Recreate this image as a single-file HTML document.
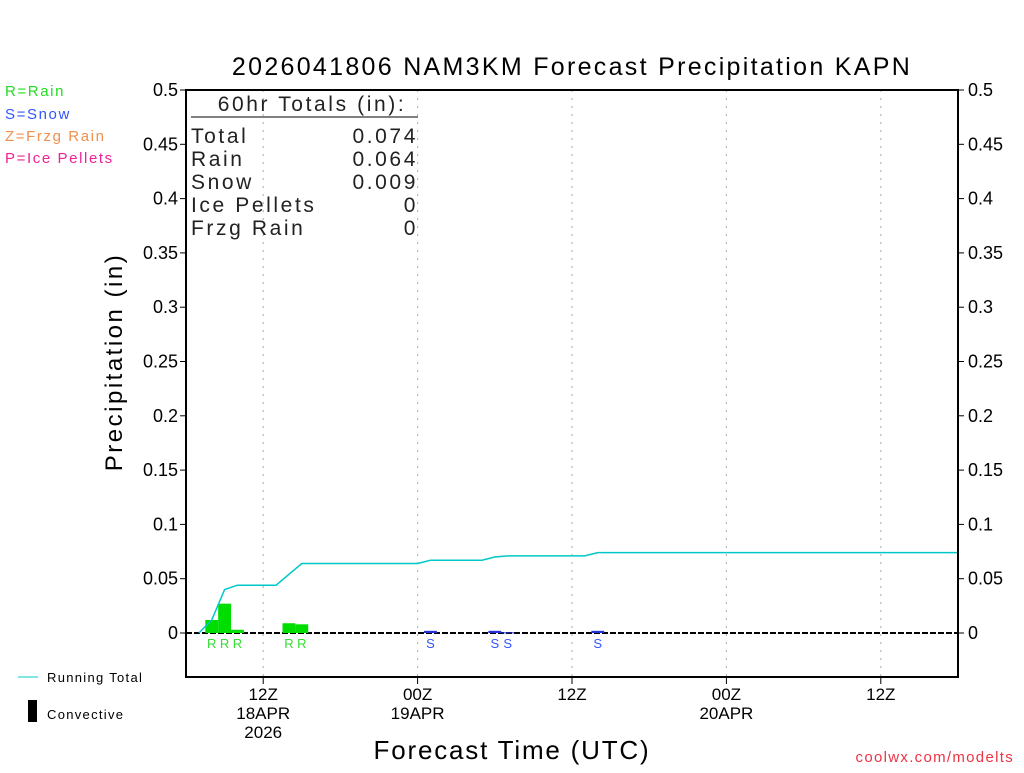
<!DOCTYPE html>
<html><head><meta charset="utf-8"><style>
body{margin:0;background:#fff;}
svg text{font-family:"Liberation Sans",sans-serif;}
</style></head><body>
<svg id="chart" width="1024" height="768" xmlns="http://www.w3.org/2000/svg">
<rect width="1024" height="768" fill="#fff"/>
<text x="572" y="75" font-size="25" text-anchor="middle" fill="#000" letter-spacing="2.3">2026041806 NAM3KM Forecast Precipitation KAPN</text>
<g font-size="15" letter-spacing="1.6">
<text x="5" y="96" fill="#22dd22">R=Rain</text>
<text x="5" y="119" fill="#3355ff">S=Snow</text>
<text x="5" y="141" fill="#f09050">Z=Frzg Rain</text>
<text x="5" y="163" fill="#ee2299">P=Ice Pellets</text>
</g>
<text transform="translate(122,362) rotate(-90)" font-size="24" text-anchor="middle" letter-spacing="2.5">Precipitation (in)</text>
<text x="512" y="759" font-size="26" text-anchor="middle" letter-spacing="1.8">Forecast Time (UTC)</text>
<text x="1014" y="762" font-size="15" text-anchor="end" fill="#ee3344" letter-spacing="1.3">coolwx.com/modelts</text>
<g>
<line x1="18" y1="677" x2="38" y2="677" stroke="#00cccc"/>
<text x="47" y="682" font-size="13" letter-spacing="1.3">Running Total</text>
<rect x="28" y="700" width="9" height="22" fill="#000"/>
<text x="47" y="719" font-size="13" letter-spacing="1.3">Convective</text>
</g>
<g id="grid"></g><g id="marks"></g>
<g font-size="21" fill="#222" letter-spacing="2.6">
<text x="312" y="111" text-anchor="middle">60hr Totals (in):</text>
<line x1="191" y1="117" x2="418" y2="117" stroke="#000"/>
<text x="191" y="143">Total</text><text x="418" y="143" text-anchor="end">0.074</text>
<text x="191" y="166">Rain</text><text x="418" y="166" text-anchor="end">0.064</text>
<text x="191" y="189">Snow</text><text x="418" y="189" text-anchor="end">0.009</text>
<text x="191" y="212">Ice Pellets</text><text x="418" y="212" text-anchor="end">0</text>
<text x="191" y="235">Frzg Rain</text><text x="418" y="235" text-anchor="end">0</text>
</g>
<rect x="186" y="90" width="772" height="587" fill="none" stroke="#000" stroke-width="2"/>
</svg>
<script>
const yTicks=[0,0.05,0.1,0.15,0.2,0.25,0.3,0.35,0.4,0.45,0.5];
const xTickHours=[6,18,30,42,54];
const xTickLabels=[["12Z","18APR","2026"],["00Z","19APR"],["12Z"],["00Z","20APR"],["12Z"]];
const rainHours=[2,3,4,8,9];
const rainValues=[0.012,0.027,0.003,0.009,0.008];
const snowHours=[19,24,25,32];
const snowValues=[0.002,0.002,0.0006,0.002];
const totalHours=[1,2,3,4,5,6,7,8,9,10,18,19,23,24,25,31,32,60];
const totalValues=[0,0.012,0.040,0.044,0.044,0.044,0.044,0.054,0.064,0.064,0.064,0.067,0.067,0.070,0.071,0.071,0.074,0.074];
const NS="http://www.w3.org/2000/svg";
const X=h=>186+h*772/60, Y=v=>633-v*1086;
const grid=document.getElementById('grid'), marks=document.getElementById('marks');
function mk(p,tag,at){const e=document.createElementNS(NS,tag);for(const k in at)e.setAttribute(k,at[k]);p.appendChild(e);return e;}
yTicks.forEach(v=>{
 const t=mk(grid,'text',{x:178,y:Y(v)+6,'font-size':18,'text-anchor':'end'});t.textContent=v;
 
 
 const r=mk(grid,'text',{x:968,y:Y(v)+6,'font-size':18});r.textContent=v;
 
 
 mk(grid,'line',{x1:180,x2:186,y1:Y(v),y2:Y(v),stroke:'#000'});
 mk(grid,'line',{x1:958,x2:964,y1:Y(v),y2:Y(v),stroke:'#000'});
});
xTickHours.forEach((h,i)=>{
 const g=mk(grid,'line',{x1:X(h),x2:X(h),y1:90,y2:677,stroke:'#aaa','stroke-dasharray':'2,6'});
 
 
 mk(grid,'line',{x1:X(h),x2:X(h),y1:677,y2:684,stroke:'#000'});
 xTickLabels[i].forEach((s,j)=>{const t=mk(grid,'text',{x:X(h),y:700+j*19,'font-size':17,'text-anchor':'middle'});t.textContent=s;
 
 });
});
mk(marks,'line',{x1:186,x2:958,y1:633,y2:633,stroke:'#000','stroke-width':2,'stroke-dasharray':'6,2'});
function bars(hours,vals,col,letter,lcol,name){
 hours.forEach((h,i)=>{
  const r=mk(marks,'rect',{x:X(h-0.5),width:772/60,y:Y(vals[i]),height:Math.max(633-Y(vals[i]),1),fill:col});
  
  
  const t=mk(marks,'text',{x:X(h),y:648,'font-size':13,'text-anchor':'middle',fill:lcol});t.textContent=letter;
  
  
 });
}
bars(rainHours,rainValues,'#00dd00','R','#33dd33','rain');
bars(snowHours,snowValues,'#2233dd','S','#3355ff','snow');
const pl=mk(marks,'polyline',{points:totalHours.map((h,i)=>X(h)+','+Y(totalValues[i])).join(' '),fill:'none',stroke:'#00c8c8','stroke-width':1.5});


</script>
</body></html>
